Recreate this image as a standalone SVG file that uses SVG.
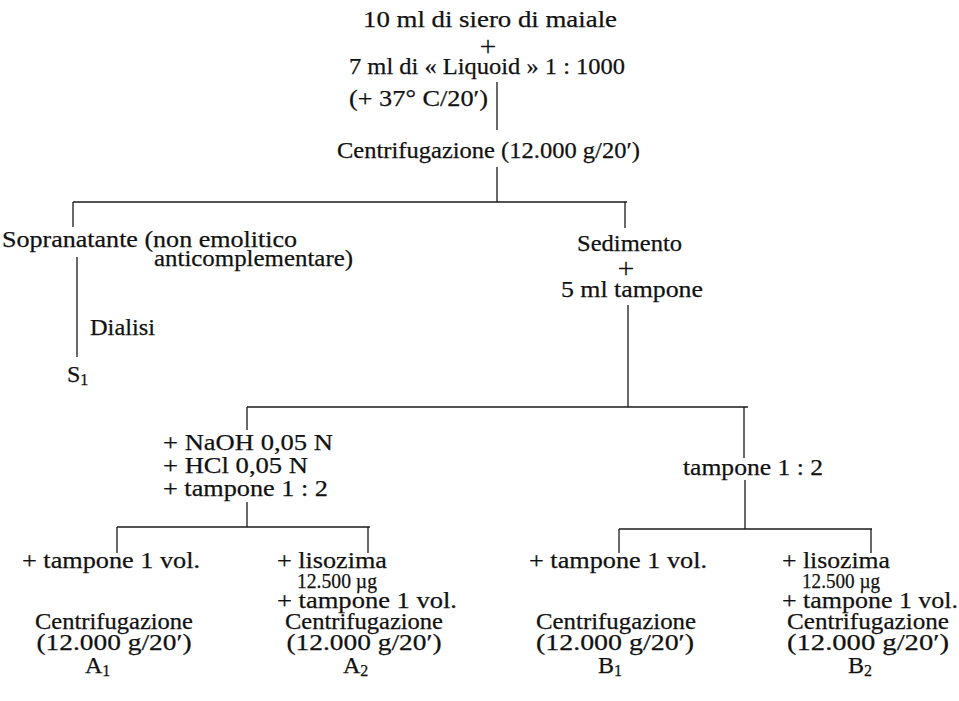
<svg xmlns="http://www.w3.org/2000/svg" width="959" height="701" viewBox="0 0 959 701">
<style>
.t{font-family:"Liberation Serif","Times New Roman",serif;font-size:24px;fill:#111;stroke:#111;stroke-width:0.25}
.p{font-size:30px;stroke-width:0}
.m{font-size:21px}
.s{font-size:16px}
.c line{stroke:#1a1a1a;stroke-width:1.3}
</style>
<rect width="959" height="701" fill="#fff"/>
<g id="connectors" class="c">
<line x1="497" y1="82" x2="497" y2="130"/>
<line x1="497" y1="167" x2="497" y2="202"/>
<line x1="73" y1="202" x2="627" y2="202"/>
<line x1="73" y1="202" x2="73" y2="227"/>
<line x1="625" y1="202" x2="625" y2="228"/>
<line x1="77" y1="257" x2="77" y2="357"/>
<line x1="628" y1="305" x2="628" y2="407"/>
<line x1="247" y1="407" x2="748" y2="407"/>
<line x1="247" y1="407" x2="247" y2="430"/>
<line x1="744" y1="407" x2="744" y2="458"/>
<line x1="745" y1="480" x2="745" y2="529"/>
<line x1="247" y1="502" x2="247" y2="527"/>
<line x1="117" y1="527" x2="370" y2="527"/>
<line x1="117" y1="527" x2="117" y2="553"/>
<line x1="368" y1="527" x2="368" y2="553"/>
<line x1="619" y1="529" x2="872" y2="529"/>
<line x1="619" y1="529" x2="619" y2="553"/>
<line x1="871" y1="529" x2="871" y2="553"/>
</g>
<g id="start">
<text class="t" x="363" y="27" textLength="254" lengthAdjust="spacingAndGlyphs">10 ml di siero di maiale</text>
<text class="t p" x="488" y="56" text-anchor="middle">+</text>
<text class="t" x="349" y="74" textLength="276" lengthAdjust="spacingAndGlyphs">7 ml di « Liquoid » 1 : 1000</text>
<text class="t" x="349" y="106" textLength="139" lengthAdjust="spacingAndGlyphs">(+ 37° C/20′)</text>
</g>
<g id="centrifugazione">
<text class="t" x="337" y="158" textLength="303" lengthAdjust="spacingAndGlyphs">Centrifugazione (12.000 g/20′)</text>
</g>
<g id="sopranatante">
<text class="t" x="2" y="247" textLength="295" lengthAdjust="spacingAndGlyphs">Sopranatante (non emolitico</text>
<text class="t" x="154" y="266" textLength="199" lengthAdjust="spacingAndGlyphs">anticomplementare)</text>
</g>
<g id="dialisi">
<text class="t" x="90" y="335" textLength="65" lengthAdjust="spacingAndGlyphs">Dialisi</text>
</g>
<g id="S1">
<text class="t" x="67" y="382">S<tspan class="s" dy="3">1</tspan></text>
</g>
<g id="sedimento">
<text class="t" x="577" y="251" textLength="105" lengthAdjust="spacingAndGlyphs">Sedimento</text>
<text class="t p" x="626" y="278" text-anchor="middle">+</text>
<text class="t" x="561" y="297" textLength="142" lengthAdjust="spacingAndGlyphs">5 ml tampone</text>
</g>
<g id="trattamento-A">
<text class="t" x="163" y="450" textLength="170" lengthAdjust="spacingAndGlyphs">+ NaOH 0,05 N</text>
<text class="t" x="163" y="473" textLength="145" lengthAdjust="spacingAndGlyphs">+ HCl 0,05 N</text>
<text class="t" x="163" y="496" textLength="165" lengthAdjust="spacingAndGlyphs">+ tampone 1 : 2</text>
</g>
<g id="trattamento-B">
<text class="t" x="683" y="475" textLength="140" lengthAdjust="spacingAndGlyphs">tampone 1 : 2</text>
</g>
<g id="A1">
<text class="t" x="22" y="568" textLength="178" lengthAdjust="spacingAndGlyphs">+ tampone 1 vol.</text>
<text class="t" x="114" y="629" text-anchor="middle" textLength="158" lengthAdjust="spacingAndGlyphs">Centrifugazione</text>
<text class="t" x="114" y="650" text-anchor="middle" textLength="155" lengthAdjust="spacingAndGlyphs">(12.000 g/20′)</text>
<text class="t" x="85" y="673">A<tspan class="s" dy="3">1</tspan></text>
</g>
<g id="A2">
<text class="t" x="277" y="568" textLength="110" lengthAdjust="spacingAndGlyphs">+ lisozima</text>
<text class="t m" x="297" y="588" textLength="80" lengthAdjust="spacingAndGlyphs">12.500 µg</text>
<text class="t" x="277" y="608" textLength="180" lengthAdjust="spacingAndGlyphs">+ tampone 1 vol.</text>
<text class="t" x="364" y="629" text-anchor="middle" textLength="158" lengthAdjust="spacingAndGlyphs">Centrifugazione</text>
<text class="t" x="364" y="650" text-anchor="middle" textLength="155" lengthAdjust="spacingAndGlyphs">(12.000 g/20′)</text>
<text class="t" x="343" y="673">A<tspan class="s" dy="3">2</tspan></text>
</g>
<g id="B1">
<text class="t" x="529" y="568" textLength="178" lengthAdjust="spacingAndGlyphs">+ tampone 1 vol.</text>
<text class="t" x="616" y="629" text-anchor="middle" textLength="160" lengthAdjust="spacingAndGlyphs">Centrifugazione</text>
<text class="t" x="615" y="650" text-anchor="middle" textLength="158" lengthAdjust="spacingAndGlyphs">(12.000 g/20′)</text>
<text class="t" x="598" y="673">B<tspan class="s" dy="3">1</tspan></text>
</g>
<g id="B2">
<text class="t" x="782" y="568" textLength="108" lengthAdjust="spacingAndGlyphs">+ lisozima</text>
<text class="t m" x="802" y="588" textLength="78" lengthAdjust="spacingAndGlyphs">12.500 µg</text>
<text class="t" x="782" y="608" textLength="176" lengthAdjust="spacingAndGlyphs">+ tampone 1 vol.</text>
<text class="t" x="868" y="629" text-anchor="middle" textLength="162" lengthAdjust="spacingAndGlyphs">Centrifugazione</text>
<text class="t" x="868" y="650" text-anchor="middle" textLength="162" lengthAdjust="spacingAndGlyphs">(12.000 g/20′)</text>
<text class="t" x="848" y="673">B<tspan class="s" dy="3">2</tspan></text>
</g>
</svg>
